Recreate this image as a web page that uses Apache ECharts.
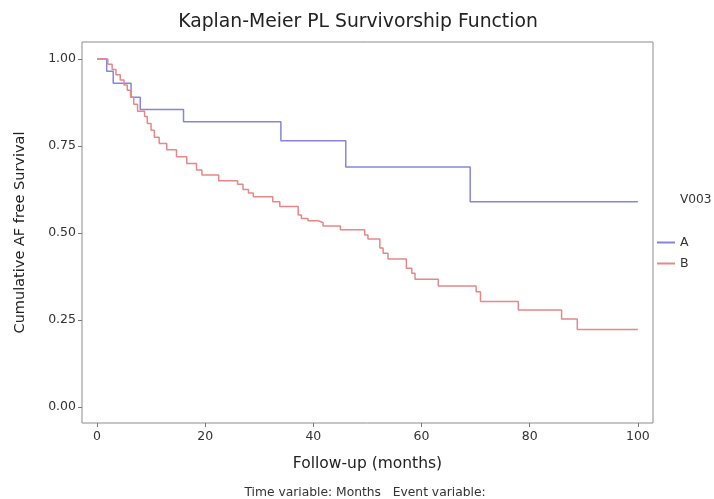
<!DOCTYPE html>
<html>
<head>
<meta charset="utf-8">
<script src="https://cdn.jsdelivr.net/npm/echarts@6/dist/echarts.min.js"></script>
<style>
html,body{margin:0;padding:0;background:#fff;}
#chart{width:714px;height:499px;}
</style>
</head>
<body>
<div id="chart"></div>
<script>
// Group A (blue) Kaplan-Meier steps: time (months) and survival after the step
var aTimes = [0, 1.8, 3, 6.3, 8, 16, 34, 46, 69, 100];
var aSurv  = [1.0, 0.965, 0.93, 0.89, 0.855, 0.82, 0.765, 0.69, 0.59, 0.59];

// Group B (red)
var bTimes = [0, 2, 2.8, 3.5, 4.3, 5, 5.6, 6.2, 6.8, 7.5, 8.8, 9.3, 10, 10.6, 11.5, 12.9,
  14.7, 16.6, 18.4, 19.4, 22.5, 26, 27, 28, 28.9, 32.5, 33.8, 37.2, 37.8, 39, 40.9, 41.8,
  45, 49.5, 50.1, 52.3, 52.9, 53.8, 57.2, 58.2, 58.8, 63.1, 70.1, 70.9, 77.9, 85.9, 88.8, 100];
var bSurv  = [1.0, 0.985, 0.97, 0.955, 0.94, 0.925, 0.91, 0.89, 0.87, 0.85, 0.835, 0.815, 0.795, 0.775, 0.757, 0.739,
  0.719, 0.700, 0.681, 0.667, 0.650, 0.640, 0.625, 0.615, 0.604, 0.590, 0.576, 0.552, 0.542, 0.535, 0.530, 0.520,
  0.509, 0.494, 0.483, 0.457, 0.442, 0.425, 0.399, 0.384, 0.367, 0.348, 0.331, 0.303, 0.279, 0.253, 0.223, 0.223];

var xTicks = [0, 20, 40, 60, 80, 100];
var yTicks = [0, 0.25, 0.5, 0.75, 1.0];
var groupNames = ['A', 'B'];

function pairs(t, s) { return t.map(function (v, i) { return [v, s[i]]; }); }

var chart = echarts.init(document.getElementById('chart'), null, {renderer: 'canvas'});
var fontFam = '"DejaVu Sans", Verdana, sans-serif';
chart.setOption({
  animation: false,
  backgroundColor: '#ffffff',
  textStyle: {fontFamily: fontFam},
  title: [
    {text: 'Kaplan-Meier PL Survivorship Function', left: 353, top: 8, textAlign: 'center',
     textStyle: {fontFamily: fontFam, fontSize: 18.8, fontWeight: 'normal', color: '#222'}},
    {text: 'Time variable: Months   Event variable:', left: 360, top: 482, textAlign: 'center',
     textStyle: {fontFamily: fontFam, fontSize: 12.3, fontWeight: 'normal', color: '#333'}},
    {text: 'V003', left: 675, top: 189,
     textStyle: {fontFamily: fontFam, fontSize: 12.2, fontWeight: 'normal', color: '#333'}}
  ],
  legend: {
    orient: 'vertical', left: 652, top: 231, itemWidth: 18, itemHeight: 2, itemGap: 8,
    icon: 'rect', data: groupNames,
    textStyle: {fontFamily: fontFam, fontSize: 12.5, color: '#333'}
  },
  grid: {left: 82, right: 61, top: 42, bottom: 76, show: true, borderColor: '#8c8c8c', borderWidth: 1,
         containLabel: false},
  xAxis: {
    type: 'value', min: -2.77, max: 102.8,
    name: 'Follow-up (months)', nameLocation: 'middle', nameGap: 33,
    nameTextStyle: {fontFamily: fontFam, fontSize: 15.5, color: '#222'},
    axisLine: {show: false, onZero: false},
    axisTick: {show: true, inside: false, length: 4, customValues: xTicks, lineStyle: {color: '#777'}},
    axisLabel: {customValues: xTicks, fontSize: 12.5, color: '#333', margin: 7},
    splitLine: {show: false}
  },
  yAxis: {
    type: 'value', min: -0.046, max: 1.0489,
    name: 'Cumulative AF free Survival', nameLocation: 'middle', nameGap: 54, nameRotate: 90,
    nameTextStyle: {fontFamily: fontFam, fontSize: 14.5, color: '#222'},
    axisLine: {show: false, onZero: false},
    axisTick: {show: true, inside: false, length: 4, customValues: yTicks, lineStyle: {color: '#777'}},
    axisLabel: {customValues: yTicks, fontSize: 12.5, color: '#333', margin: 6,
                formatter: function (v) { return v.toFixed(2); }},
    splitLine: {show: false}
  },
  series: [
    {name: groupNames[0], type: 'line', step: 'end', symbol: 'none', data: pairs(aTimes, aSurv),
     itemStyle: {color: '#8585e0'}, lineStyle: {color: '#8585e0', width: 1.5}},
    {name: groupNames[1], type: 'line', step: 'end', symbol: 'none', data: pairs(bTimes, bSurv),
     itemStyle: {color: '#e68888'}, lineStyle: {color: '#e68888', width: 1.5}}
  ]
});
</script>
</body>
</html>
